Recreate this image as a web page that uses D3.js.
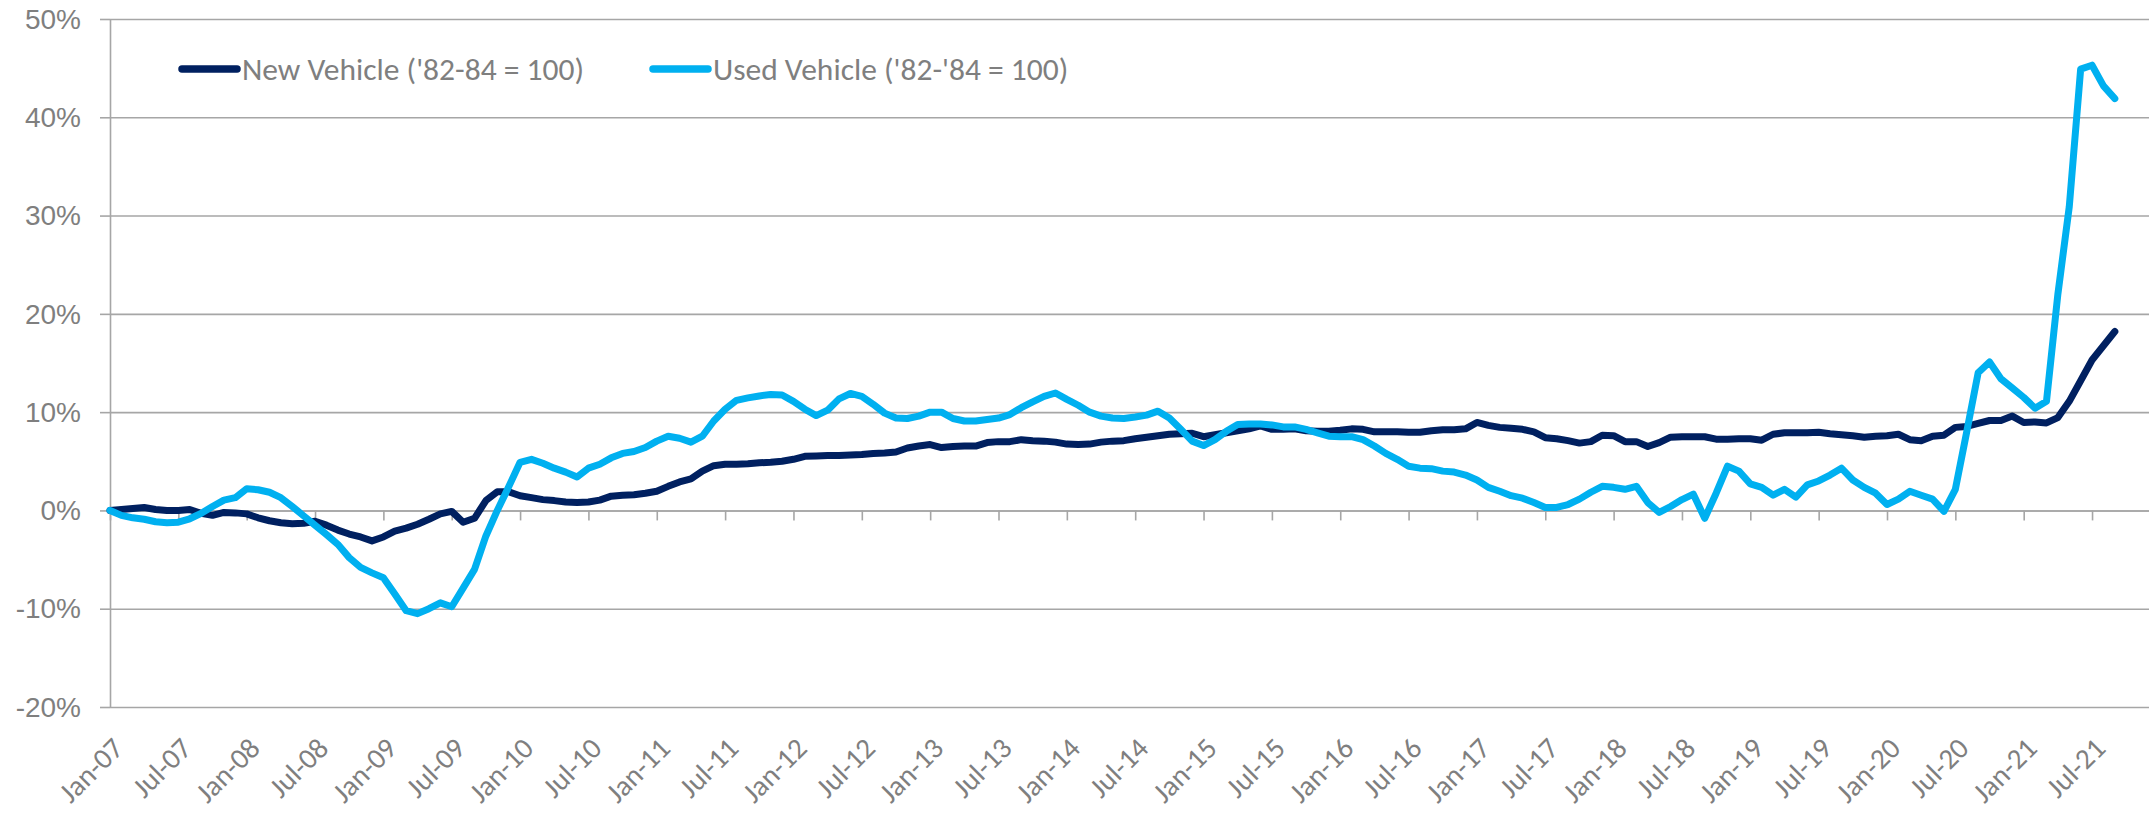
<!DOCTYPE html>
<html>
<head>
<meta charset="utf-8">
<script src="https://cdn.jsdelivr.net/npm/d3@7"></script>
<style>
  body { margin: 0; background: #fff; }
  svg { display: block; font-family: Carlito, Calibri, "Open Sans", sans-serif; }
  .grid line { stroke: #a6a6a6; stroke-width: 1.6px; }
  .grid path { display: none; }
  .axis path, .axis line { stroke: #a6a6a6; stroke-width: 1.6px; }
  .axis text, .xlabel, .legend text { fill: #7f7f7f; }
</style>
</head>
<body>
<div id="chart"></div>
<script>
const MARGIN = { LEFT: 110, RIGHT: 0, TOP: 19, BOTTOM: 107 }
const WIDTH = 2149 - MARGIN.LEFT - MARGIN.RIGHT
const HEIGHT = 814 - MARGIN.TOP - MARGIN.BOTTOM

// monthly categories Jan-07 .. Dec-21
const MONTHS = ["Jan", "Feb", "Mar", "Apr", "May", "Jun", "Jul", "Aug", "Sep", "Oct", "Nov", "Dec"]
const YEARS = ["07", "08", "09", "10", "11", "12", "13", "14", "15", "16", "17", "18", "19", "20", "21"]
const categories = []
YEARS.forEach(yy => MONTHS.forEach(mm => categories.push(mm + "-" + yy)))

// labelled ticks, every 6 months
const tickLabels = categories.filter((c, i) => i % 6 === 0 && i <= 174)

const yTicks = [-0.2, -0.1, 0, 0.1, 0.2, 0.3, 0.4, 0.5]

// % change since Jan-07, Jan-07 .. Sep-21
const newVehicle = [
  0.0, 0.1, 0.2, 0.3, 0.1, 0.0, 0.0, 0.1, -0.3, -0.5, -0.2, -0.25,
  -0.35, -0.75, -1.05, -1.25, -1.35, -1.3, -1.1, -1.5, -2.0, -2.4, -2.7, -3.1,
  -2.7, -2.1, -1.8, -1.4, -0.9, -0.35, -0.1, -1.2, -0.8, 1.0, 1.9, 1.9,
  1.5, 1.3, 1.1, 1.0, 0.85, 0.8, 0.85, 1.05, 1.45, 1.55, 1.6, 1.75,
  1.95, 2.45, 2.9, 3.2, 4.0, 4.55, 4.7, 4.7, 4.75, 4.85, 4.9, 5.0,
  5.2, 5.5, 5.55, 5.6, 5.6, 5.65, 5.7, 5.8, 5.85, 5.95, 6.35, 6.55,
  6.7, 6.4, 6.5, 6.55, 6.55, 6.9, 7.0, 7.0, 7.2, 7.1, 7.05, 6.95,
  6.75, 6.7, 6.75, 6.95, 7.05, 7.1, 7.3, 7.45, 7.6, 7.75, 7.8, 7.85,
  7.5, 7.7, 7.9, 8.1, 8.3, 8.6, 8.25, 8.25, 8.3, 8.1, 8.05, 8.05,
  8.15, 8.3, 8.25, 8.0, 8.0, 8.0, 7.95, 7.95, 8.1, 8.2, 8.2, 8.3,
  8.95, 8.65, 8.45, 8.35, 8.25, 8.0, 7.4, 7.3, 7.1, 6.85, 7.0, 7.65,
  7.6, 7.0, 7.0, 6.5, 6.9, 7.45, 7.5, 7.5, 7.5, 7.25, 7.25, 7.3,
  7.3, 7.15, 7.75, 7.9, 7.9, 7.9, 7.95, 7.8, 7.7, 7.6, 7.45, 7.55,
  7.6, 7.75, 7.2, 7.1, 7.55, 7.65, 8.45, 8.55, 8.85, 9.15, 9.15, 9.6,
  8.95, 9.0, 8.9, 9.45, 11.1, 13.2, 15.3, 16.75, 18.2
]
const usedVehicle = [
  0.0, -0.5, -0.75, -0.9, -1.15, -1.25, -1.2, -0.85, -0.3, 0.4, 1.05, 1.3,
  2.2, 2.1, 1.85, 1.3, 0.4, -0.55, -1.5, -2.45, -3.45, -4.8, -5.8, -6.35,
  -6.85, -8.5, -10.2, -10.5, -10.0, -9.4, -9.8, -7.9, -6.0, -2.6, 0.0, 2.4,
  4.9, 5.2, 4.8, 4.3, 3.9, 3.4, 4.3, 4.7, 5.35, 5.8, 6.0, 6.4,
  7.05, 7.55, 7.35, 6.95, 7.55, 9.1, 10.3, 11.2, 11.45, 11.65, 11.8, 11.75,
  11.1, 10.3, 9.65, 10.2, 11.35, 11.9, 11.6, 10.8, 9.9, 9.4, 9.35, 9.6,
  10.0, 10.0, 9.35, 9.1, 9.1, 9.25, 9.4, 9.75, 10.45, 11.05, 11.6, 11.95,
  11.3, 10.7, 10.0, 9.6, 9.4, 9.35, 9.5, 9.7, 10.1, 9.4, 8.25, 7.05,
  6.6, 7.2, 8.05, 8.75, 8.8, 8.8, 8.7, 8.5, 8.5, 8.25, 7.9, 7.55,
  7.5, 7.5, 7.2, 6.55, 5.8, 5.2, 4.5, 4.3, 4.25, 4.0, 3.9, 3.6,
  3.1, 2.35, 1.95, 1.5, 1.25, 0.8, 0.3, 0.3, 0.6, 1.15, 1.85, 2.45,
  2.35, 2.15, 2.45, 0.8, -0.2, 0.4, 1.1, 1.65, -0.8, 1.75, 4.5, 4.0,
  2.7, 2.35, 1.55, 2.15, 1.35, 2.6, 3.0, 3.6, 4.3, 3.1, 2.35, 1.75,
  0.6, 1.15, 1.95, 1.55, 1.15, -0.1, 2.15, 8.0, 14.0, 15.1, 13.4, 12.45,
  11.5, 10.4, 11.1, 22.0, 30.9, 44.9, 45.3, 43.2, 41.9
]

const series = [
  { name: "New Vehicle ('82-84 = 100)", values: newVehicle, color: "#002060" },
  { name: "Used Vehicle ('82-'84 = 100)", values: usedVehicle, color: "#00b0f0" }
]

const svg = d3.select("#chart").append("svg")
  .attr("width", WIDTH + MARGIN.LEFT + MARGIN.RIGHT)
  .attr("height", HEIGHT + MARGIN.TOP + MARGIN.BOTTOM)

const g = svg.append("g")
  .attr("transform", `translate(${MARGIN.LEFT}, ${MARGIN.TOP})`)

// scales
const x = d3.scalePoint().domain(categories).range([0, WIDTH])
const y = d3.scaleLinear().domain([-0.2, 0.5]).range([HEIGHT, 0])
const pct = d => Math.round(d * 100) + "%"

// gridlines
g.append("g")
  .attr("class", "grid")
  .call(d3.axisLeft(y).tickValues(yTicks).tickSize(-WIDTH).tickFormat(""))

// y axis with outside ticks
const yAxis = g.append("g")
  .attr("class", "axis")
  .call(d3.axisLeft(y).tickValues(yTicks).tickSizeInner(10).tickSizeOuter(0)
    .tickPadding(19).tickFormat(pct))
yAxis.selectAll("text")
  .attr("font-size", "28px")
  .attr("dy", "0.33em")

// category axis crosses at 0%
const xAxis = g.append("g")
  .attr("class", "axis")
  .attr("transform", `translate(0, ${y(0)})`)
  .call(d3.axisBottom(x).tickValues(tickLabels).tickSizeInner(10).tickSizeOuter(0)
    .tickFormat(""))

// rotated month labels at the bottom
g.append("g")
  .selectAll("text")
  .data(tickLabels)
  .enter().append("text")
  .attr("class", "xlabel")
  .attr("transform", d => `translate(${x(d) + 8}, ${HEIGHT + 36}) rotate(-45)`)
  .attr("text-anchor", "end")
  .attr("dominant-baseline", "central")
  .attr("font-size", "29px")
  .text(d => d)

// lines
const line = d3.line()
  .x((d, i) => x(categories[i]))
  .y(d => y(d / 100))

g.selectAll(".series")
  .data(series)
  .enter().append("path")
  .attr("class", "series")
  .attr("fill", "none")
  .attr("stroke", d => d.color)
  .attr("stroke-width", 7)
  .attr("stroke-linejoin", "round")
  .attr("stroke-linecap", "round")
  .attr("d", d => line(d.values))

// legend
const legendX = [182, 653]
const legend = svg.append("g").attr("class", "legend")
series.forEach((s, i) => {
  const item = legend.append("g").attr("transform", `translate(${legendX[i]}, 69)`)
  item.append("line")
    .attr("x1", 0).attr("x2", 55)
    .attr("stroke", s.color)
    .attr("stroke-width", 7.5)
    .attr("stroke-linecap", "round")
  item.append("text")
    .attr("x", 60)
    .attr("dy", "0.35em")
    .attr("font-size", "31.5px")
    .text(s.name)
})
</script>
</body>
</html>
